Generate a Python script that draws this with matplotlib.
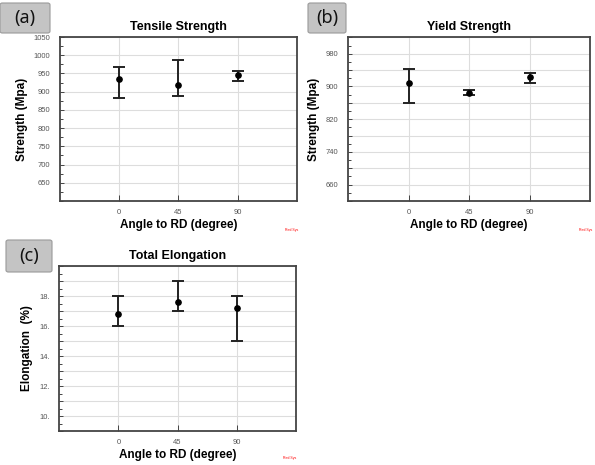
import numpy as np
import matplotlib
matplotlib.use('Agg')
import matplotlib.pyplot as plt
from matplotlib.patches import FancyBboxPatch

plt.rcParams['font.family'] = ['Liberation Sans', 'DejaVu Sans']

angles = [0, 45, 90]

# (a) tensile strength
ts_mean = [935, 918, 945]
ts_low = [882, 889, 930]
ts_high = [968, 988, 957]

# (b) yield strength
ys_mean = [909, 885, 923]
ys_low = [859, 880, 909]
ys_high = [943, 891, 933]

# (c) total elongation
el_mean = [16.8, 17.6, 17.2]
el_low = [16.0, 17.0, 15.0]
el_high = [18.0, 19.0, 18.0]

fig = plt.figure(figsize=(5.95, 4.65), dpi=100)
fig.patch.set_facecolor('white')


def panel(rect, mean, low, high, ylim, yticks, ylabels, grid_y, minor_y,
          title, ylabel, tag, tag_rect, red_xy):
    ax = fig.add_axes(rect)
    mean = np.array(mean)
    yerr = np.array([mean - np.array(low), np.array(high) - mean])
    ax.errorbar(angles, mean, yerr=yerr, fmt='o', color='black',
                ms=3.8, elinewidth=1.4, capsize=4.5, capthick=1.4, ecolor='#222222',
                zorder=3)
    ax.set_xlim(-45, 135)
    ax.set_ylim(*ylim)
    ax.set_xticks(angles)
    ax.set_xticklabels([str(a) for a in angles])
    ax.set_yticks(yticks)
    ax.set_yticklabels(ylabels)
    ax.set_yticks(minor_y, minor=True)
    for g in grid_y:
        ax.axhline(g, color='#dddddd', lw=0.8, zorder=0)
    for a in angles:
        ax.axvline(a, color='#dddddd', lw=0.8, zorder=0)
    ax.tick_params(axis='both', which='both', direction='in', colors='#444444',
                   labelsize=5.5, labelcolor='#555555', width=0.7)
    ax.tick_params(axis='y', which='major', length=3, pad=7)
    ax.tick_params(axis='y', which='minor', length=2)
    ax.tick_params(axis='x', which='major', length=4, pad=6)
    for s in ax.spines.values():
        s.set_color('#444444')
        s.set_linewidth(1.3)
    ax.set_title(title, fontsize=9, fontweight='bold', pad=5)
    ax.set_xlabel('Angle to RD (degree)', fontsize=8.5, fontweight='bold', labelpad=2)
    ax.set_ylabel(ylabel, fontsize=8.5, fontweight='bold', labelpad=4)
    # panel tag box
    x0, y0, w, h = tag_rect
    box = FancyBboxPatch((x0, y0), w, h, boxstyle='round,pad=0,rounding_size=0.004',
                         transform=fig.transFigure, facecolor='#c4c4c4',
                         edgecolor='#999999', lw=0.8)
    fig.patches.append(box)
    fig.text(x0 + w / 2, y0 + h / 2, tag, ha='center', va='center',
             fontsize=13, color='#111111', family=['Noto Sans', 'DejaVu Sans'])
    fig.text(red_xy[0], red_xy[1], 'Red Sys', fontsize=2.5, color='red',
             ha='center', va='center')
    return ax


panel([0.1008, 0.5677, 0.3983, 0.3527], ts_mean, ts_low, ts_high,
      (600, 1050), list(range(650, 1051, 50)), [str(v) for v in range(650, 1051, 50)],
      list(range(650, 1051, 50)), list(range(600, 1051, 25)),
      'Tensile Strength', 'Strength (Mpa)', '(a)',
      (0.0, 1 - 33 / 465, 50 / 595, 30 / 465), (292 / 595, 1 - 230 / 465))

yb = list(range(620, 1021, 40))
panel([0.5854, 0.5677, 0.4062, 0.352], ys_mean, ys_low, ys_high,
      (620, 1020), yb, [str(v) if v in (660, 740, 820, 900, 980) else '' for v in yb],
      yb, list(range(620, 1021, 20)),
      'Yield Strength', 'Strength (Mpa)', '(b)',
      (308 / 595, 1 - 33 / 465, 38 / 595, 30 / 465), (586 / 595, 1 - 230 / 465))

yc = list(range(9, 21))
panel([0.0997, 0.0731, 0.3973, 0.3548], el_mean, el_low, el_high,
      (9, 20), yc, [f'{v}.' if v in (10, 12, 14, 16, 18) else '' for v in yc],
      yc, list(np.arange(9, 20.01, 0.5)),
      'Total Elongation', 'Elongation  (%)', '(c)',
      (6 / 595, 1 - 272 / 465, 46 / 595, 32 / 465), (290 / 595, 1 - 458 / 465))

fig.savefig('out.png', dpi=100, facecolor='white')
